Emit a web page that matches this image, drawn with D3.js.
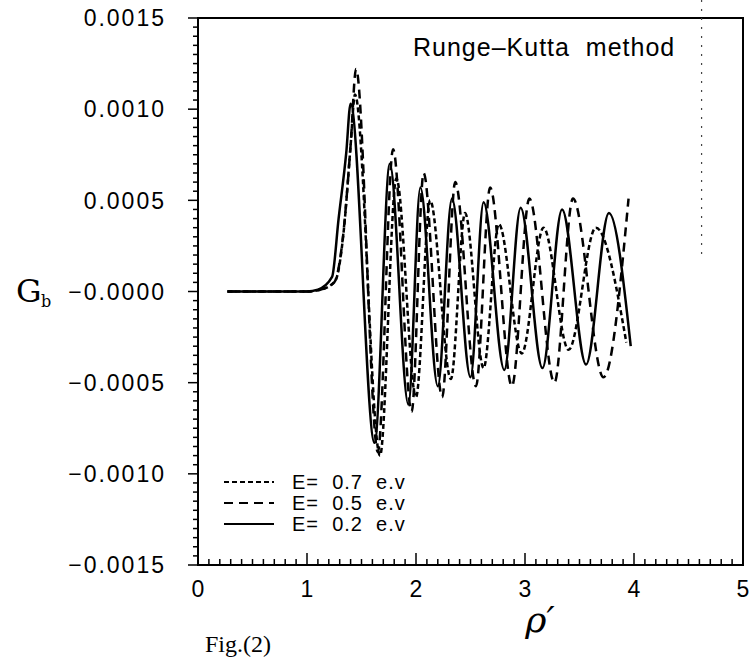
<!DOCTYPE html>
<html><head><meta charset="utf-8">
<script src="https://cdn.jsdelivr.net/npm/d3@7"></script>
<style>body{margin:0;background:#fff}svg{display:block}text{white-space:pre}</style>
</head><body><svg id="c" width="749" height="666"></svg>
<script>
// ---- data ----
const seriesNames = ["E=  0.7  e.v", "E=  0.5  e.v", "E=  0.2  e.v"];
const xTickValues = [0, 1, 2, 3, 4, 5];
const xTickLabels = ["0", "1", "2", "3", "4", "5"];
const yTickValues = [0.0015, 0.0010, 0.0005, 0, -0.0005, -0.0010, -0.0015];
const yTickLabels = ["0.0015", "0.0010", "0.0005", "\u22120.0000", "\u22120.0005", "\u22120.0010", "\u22120.0015"];

// E = 0.7 e.v (dotted)
const rho07 = [0.27, 1.0, 1.13, 1.26, 1.34, 1.40, 1.44, 1.67, 1.82, 2.00, 2.13, 2.32, 2.45, 2.62, 2.76, 2.97, 3.17, 3.40, 3.65, 3.93];
const g07   = [0, 0, 0.00001, 0.00006, 0.00035, 0.0008, 0.00108, -0.0009, 0.00062, -0.00058, 0.0005, -0.00048, 0.00043, -0.00042, 0.00037, -0.00034, 0.00035, -0.00032, 0.00035, -0.00028];
// E = 0.5 e.v (dashed)
const rho05 = [0.27, 1.0, 1.12, 1.25, 1.33, 1.40, 1.45, 1.65, 1.79, 1.96, 2.07, 2.24, 2.36, 2.55, 2.68, 2.88, 3.04, 3.27, 3.44, 3.72, 3.95];
const g05   = [0, 0, 0.00001, 0.00005, 0.0003, 0.0008, 0.00122, -0.00088, 0.00078, -0.00066, 0.00065, -0.00058, 0.0006, -0.00052, 0.00057, -0.00052, 0.00051, -0.0005, 0.00051, -0.00047, 0.00051];
// E = 0.2 e.v (solid)
const rho02 = [0.27, 1.0, 1.10, 1.23, 1.29, 1.36, 1.40, 1.62, 1.76, 1.93, 2.04, 2.20, 2.33, 2.50, 2.62, 2.81, 2.96, 3.16, 3.34, 3.56, 3.77, 3.97];
const g02   = [0, 0, 0.00001, 0.00008, 0.0004, 0.00076, 0.00103, -0.00083, 0.0007, -0.00062, 0.00057, -0.00052, 0.00051, -0.00047, 0.00049, -0.00043, 0.00046, -0.00042, 0.00045, -0.0004, 0.00043, -0.0003];

const dashes = ["5,3", "9,6", null];

// ---- layout ----
const svg = d3.select("#c");
const L = 198, R = 743, T = 18, B = 565;
const x = d3.scaleLinear().domain([0, 5]).range([L, R]);
const y = d3.scaleLinear().domain([-0.0015, 0.0015]).range([B, T]);
const font = "'Liberation Sans', Arial, sans-serif";

// frame
svg.append("rect").attr("x", L).attr("y", T).attr("width", R - L).attr("height", B - T)
  .attr("fill", "none").attr("stroke", "#000").attr("stroke-width", 2);

// y axis: ticks outward, minor every 0.00005
const yMinor = d3.range(-30, 31).map(i => i * 0.00005);
svg.append("g").selectAll("line").data(yMinor).join("line")
  .attr("x1", L).attr("x2", d => L - (Math.abs(Math.round(d * 1e5)) % 50 === 0 ? 10 : 5))
  .attr("y1", d => y(d)).attr("y2", d => y(d)).attr("stroke", "#000").attr("stroke-width", 1.5);
svg.append("g").selectAll("text").data(yTickValues).join("text")
  .attr("x", 166).attr("y", d => y(d)).attr("dy", "0.36em").attr("text-anchor", "end")
  .attr("font-family", font).attr("font-size", 23).attr("letter-spacing", 2)
  .text((d, i) => yTickLabels[i]);

// x axis: ticks inward, minor every 0.1
const xMinor = d3.range(0, 51).map(i => i / 10);
svg.append("g").selectAll("line").data(xMinor).join("line")
  .attr("x1", d => x(d)).attr("x2", d => x(d)).attr("y1", B)
  .attr("y2", (d, i) => B - (i % 10 === 0 ? 12 : 6)).attr("stroke", "#000").attr("stroke-width", 1.5);
svg.append("g").selectAll("text").data(xTickValues).join("text")
  .attr("x", d => x(d)).attr("y", 597).attr("text-anchor", "middle")
  .attr("font-family", font).attr("font-size", 23).text((d, i) => xTickLabels[i]);

// curves
const data = [d3.zip(rho07, g07), d3.zip(rho05, g05), d3.zip(rho02, g02)];
const line = d3.line().x(d => x(d[0])).y(d => y(d[1])).curve(d3.curveMonotoneX);
svg.append("g").selectAll("path").data(data).join("path")
  .attr("d", line).attr("fill", "none").attr("stroke", "#000").attr("stroke-width", 2.5)
  .attr("stroke-dasharray", (d, i) => dashes[i]);

// legend
const lg = svg.append("g");
seriesNames.forEach((n, i) => {
  const ly = 482 + i * 21;
  lg.append("line").attr("x1", 224).attr("x2", 274).attr("y1", ly).attr("y2", ly)
    .attr("stroke", "#000").attr("stroke-width", 2).attr("stroke-dasharray", dashes[i]);
  lg.append("text").attr("x", 292).attr("y", ly).attr("dy", "0.36em")
    .attr("font-family", font).attr("font-size", 20).attr("letter-spacing", 1).text(n);
});

// annotation
svg.append("text").attr("x", 413).attr("y", 56).attr("font-family", font)
  .attr("font-size", 25).attr("letter-spacing", 1).text("Runge\u2013Kutta  method");

// axis titles
svg.append("text").attr("x", 16).attr("y", 302).attr("font-family", "'DejaVu Serif', serif")
  .attr("font-size", 32).text("G");
svg.append("text").attr("x", 41).attr("y", 307).attr("font-family", "'DejaVu Serif', serif")
  .attr("font-size", 16).text("b");
svg.append("text").attr("x", 540).attr("y", 632).attr("text-anchor", "middle")
  .attr("font-family", "'DejaVu Serif', serif").attr("font-style", "italic").attr("font-size", 36).text("\u03c1\u2032");
svg.append("text").attr("x", 205).attr("y", 652).attr("font-family", "'Liberation Serif', serif")
  .attr("font-size", 24).text("Fig.(2)");

// scan artifact: faint dotted vertical line at upper right
svg.append("line").attr("x1", x(4.62)).attr("x2", x(4.62)).attr("y1", 0).attr("y2", 258)
  .attr("stroke", "#444").attr("stroke-width", 1.2).attr("stroke-dasharray", "2,7");
</script></body></html>
